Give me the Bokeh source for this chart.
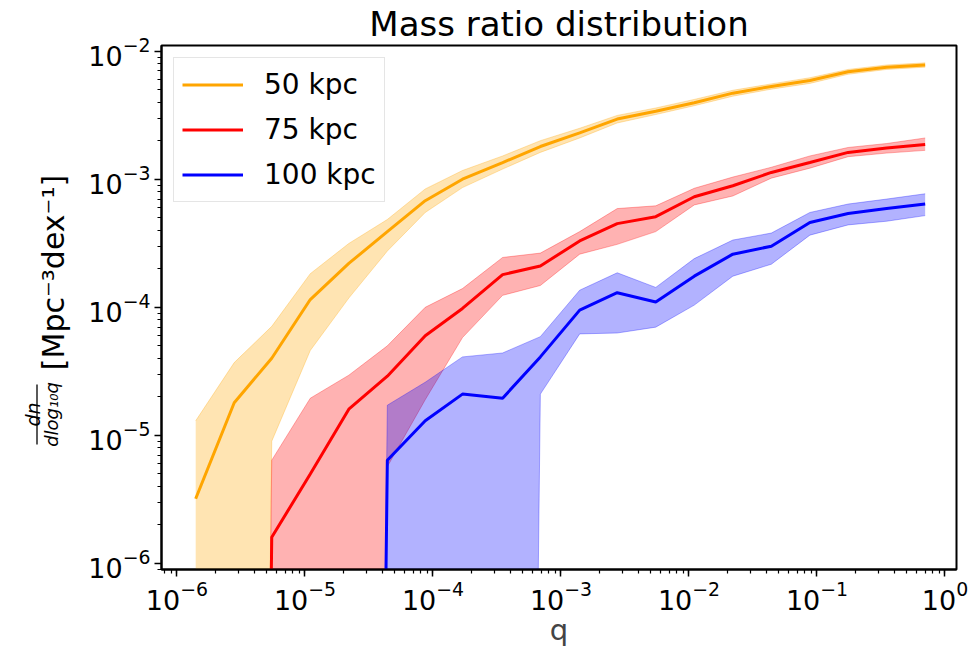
import numpy as np
from bokeh.plotting import figure
from bokeh.layouts import row
from bokeh.models import Range1d
from bokeh.core.properties import value
from bokeh.embed import file_html
from bokeh.resources import INLINE

# ---- data ----
q = [1.4e-6, 2.8e-6, 5.5e-6, 1.1e-5, 2.2e-5, 4.4e-5, 8.7e-5, 1.7e-4, 3.5e-4, 6.9e-4,
     1.4e-3, 2.75e-3, 5.5e-3, 1.1e-2, 2.2e-2, 4.4e-2, 8.8e-2, 0.175, 0.35, 0.7]

orange_mid = [3.2e-6, 1.8e-5, 4.0e-5, 1.15e-4, 2.2e-4, 3.9e-4, 6.8e-4, 1.0e-3, 1.35e-3, 1.8e-3,
              2.3e-3, 2.95e-3, 3.4e-3, 3.95e-3, 4.7e-3, 5.3e-3, 5.9e-3, 6.9e-3, 7.5e-3, 7.8e-3]
orange_hi = [1.3e-5, 3.7e-5, 7.1e-5, 1.83e-4, 3.15e-4, 4.85e-4, 8.4e-4, 1.17e-3, 1.52e-3, 2.0e-3,
             2.5e-3, 3.15e-3, 3.6e-3, 4.2e-3, 4.95e-3, 5.55e-3, 6.2e-3, 7.2e-3, 7.8e-3, 8.1e-3]
orange_lo = [0, 0, 9e-6, 4.6e-5, 1.18e-4, 2.75e-4, 5.5e-4, 8.6e-4, 1.2e-3, 1.62e-3,
             2.1e-3, 2.75e-3, 3.2e-3, 3.75e-3, 4.45e-3, 5.05e-3, 5.6e-3, 6.6e-3, 7.2e-3, 7.5e-3]

red_mid = [0, 0, 1.6e-6, 5.0e-6, 1.6e-5, 2.9e-5, 6.0e-5, 9.8e-5, 1.8e-4, 2.1e-4,
           3.3e-4, 4.5e-4, 5.1e-4, 7.3e-4, 8.9e-4, 1.13e-3, 1.35e-3, 1.62e-3, 1.75e-3, 1.87e-3]
red_hi = [0, 0, 6.4e-6, 1.95e-5, 2.95e-5, 5.0e-5, 1.0e-4, 1.4e-4, 2.45e-4, 2.65e-4,
          3.9e-4, 5.9e-4, 6.2e-4, 8.5e-4, 1.04e-3, 1.24e-3, 1.52e-3, 1.77e-3, 1.9e-3, 2.1e-3]
red_lo = [0, 0, 0, 0, 0, 5.7e-6, 1.9e-5, 5.8e-5, 1.24e-4, 1.48e-4,
          2.6e-4, 3.1e-4, 3.9e-4, 6.3e-4, 7.4e-4, 1.02e-3, 1.22e-3, 1.5e-3, 1.6e-3, 1.68e-3]

blue_mid = [0, 0, 0, 0, 0, 6.4e-6, 1.3e-5, 2.1e-5, 1.95e-5, 4.1e-5,
            9.5e-5, 1.3e-4, 1.1e-4, 1.75e-4, 2.6e-4, 3.0e-4, 4.6e-4, 5.4e-4, 5.9e-4, 6.4e-4]
blue_hi = [0, 0, 0, 0, 0, 1.72e-5, 2.6e-5, 4.1e-5, 4.4e-5, 5.9e-5,
           1.36e-4, 1.86e-4, 1.43e-4, 2.4e-4, 3.35e-4, 3.8e-4, 5.5e-4, 6.4e-4, 7.0e-4, 7.7e-4]
blue_lo = [0, 0, 0, 0, 0, 0, 0, 0, 0, 2.1e-5,
           6.2e-5, 6.3e-5, 7.0e-5, 1.04e-4, 1.75e-4, 2.17e-4, 3.66e-4, 4.4e-4, 4.7e-4, 5.2e-4]

labels = ["50 kpc", "75 kpc", "100 kpc"]
colors = ["#FFA500", "#FF0000", "#0000FF"]

title_text = "Mass ratio distribution"
xlabel_text = "q"
ylabel_num = "dn"
ylabel_den = "dlog₁₀q"
ylabel_units = "[Mpc⁻³dex⁻¹]"

# non-positive values fall off a log axis (clipped like matplotlib does)
FLOOR = 1e-30
def pos(a):
    return [v if v > 0 else FLOOR for v in a]

FONT = "DejaVu Sans"
W, H = 968, 666
LEFT_W = 80                   # strip holding the y label
FRAME_TOP, FRAME_BOTTOM = 45, 569

# ---- main plot ----
p = figure(width=W - LEFT_W, height=H, x_axis_type="log", y_axis_type="log",
           x_range=Range1d(7.57e-7, 1.23), y_range=Range1d(8.97e-7, 1.107e-2),
           title=title_text, output_backend="svg", toolbar_location=None,
           min_border_left=161 - LEFT_W, min_border_right=12,
           min_border_top=FRAME_TOP, min_border_bottom=H - FRAME_BOTTOM)

series = [(orange_mid, orange_lo, orange_hi), (red_mid, red_lo, red_hi), (blue_mid, blue_lo, blue_hi)]
for (mid, lo, hi), c, lab in zip(series, colors, labels):
    p.varea(x=q, y1=pos(lo), y2=pos(hi), fill_color=c, fill_alpha=0.3)
    p.line(x=q, y=pos(hi), line_color=c, line_alpha=0.3, line_width=1)
    p.line(x=q, y=pos(lo), line_color=c, line_alpha=0.3, line_width=1)
    p.line(x=q, y=pos(mid), line_color=c, line_width=3, legend_label=lab)

p.background_fill_color = "white"
p.border_fill_color = "white"
p.outline_line_color = "black"
p.outline_line_width = 2
p.xgrid.visible = False
p.ygrid.visible = False

p.title.align = "center"
p.title.text_font = FONT
p.title.text_font_size = "34px"
p.title.text_font_style = "normal"
p.title.text_color = "black"
p.title.standoff = 3

for ax in (p.xaxis[0], p.yaxis[0]):
    ax.axis_line_color = "black"
    ax.axis_line_width = 2
    ax.major_tick_out = 7
    ax.major_tick_in = 0
    ax.minor_tick_out = 4
    ax.minor_tick_in = 0
    ax.major_tick_line_width = 1.5
    ax.minor_tick_line_width = 1.2
    ax.major_label_text_font = FONT
    ax.major_label_text_font_size = "27px"
    ax.major_label_text_color = "black"
    ax.major_label_standoff = 4

p.xaxis.axis_label = xlabel_text
p.xaxis.axis_label_text_font = FONT
p.xaxis.axis_label_text_font_size = "29px"
p.xaxis.axis_label_text_font_style = "normal"
p.xaxis.axis_label_standoff = 0

lg = p.legend[0]
lg.location = "top_left"
lg.margin = 12
lg.padding = 8
lg.glyph_width = 61
lg.glyph_height = 37
lg.label_height = 37
lg.label_standoff = 21
lg.spacing = 8
lg.label_text_font = FONT
lg.label_text_font_size = "28px"
lg.label_text_color = "black"
lg.border_line_color = "#cccccc"
lg.border_line_width = 1.5
lg.background_fill_alpha = 0.8

# ---- y-label strip: its frame lines up with the main frame, so data y = page y measured from the bottom ----
l = figure(width=LEFT_W, height=H, x_range=Range1d(0, LEFT_W),
           y_range=Range1d(H - FRAME_BOTTOM, H - FRAME_TOP),
           x_axis_location=None, y_axis_location=None, title=None,
           output_backend="svg", toolbar_location=None,
           min_border=0, min_border_left=0, min_border_right=0,
           min_border_top=FRAME_TOP, min_border_bottom=H - FRAME_BOTTOM)
l.outline_line_color = None
l.background_fill_color = "white"
l.border_fill_color = "white"
l.xgrid.visible = False
l.ygrid.visible = False

l.text(x=[53], y=[H - 272], text=[ylabel_units], angle=np.pi / 2, text_align="center",
       text_baseline="alphabetic", text_font=value(FONT), text_font_size="30px", text_color="black")
l.text(x=[32], y=[H - 414], text=[ylabel_num], angle=np.pi / 2, text_align="center",
       text_baseline="alphabetic", text_font=value(FONT), text_font_size="19px",
       text_font_style="italic", text_color="black")
l.text(x=[51], y=[H - 414], text=[ylabel_den], angle=np.pi / 2, text_align="center",
       text_baseline="alphabetic", text_font=value(FONT), text_font_size="18px",
       text_font_style="italic", text_color="black")
l.segment(x0=[36.5], y0=[H - 384], x1=[36.5], y1=[H - 444], line_color="black", line_width=1.3)

layout = row(l, p, spacing=0)
open("out.html", "w").write(file_html(layout, INLINE))
